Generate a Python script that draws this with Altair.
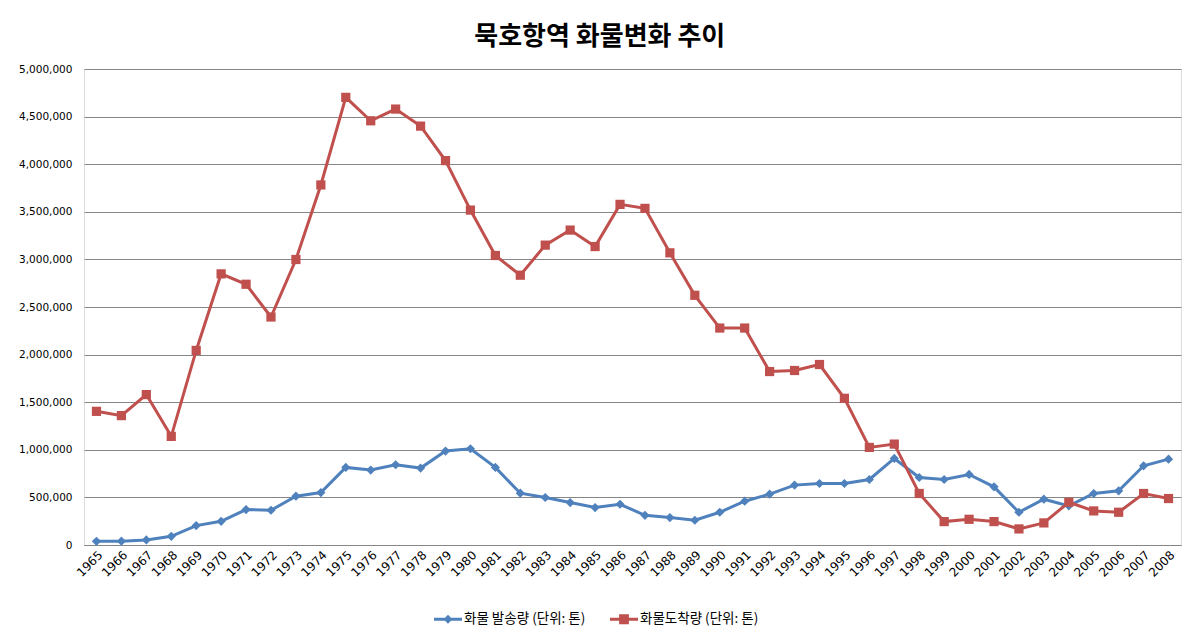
import altair as alt
import pandas as pd

years = ["1965","1966","1967","1968","1969","1970","1971","1972","1973","1974",
         "1975","1976","1977","1978","1979","1980","1981","1982","1983","1984",
         "1985","1986","1987","1988","1989","1990","1991","1992","1993","1994",
         "1995","1996","1997","1998","1999","2000","2001","2002","2003","2004",
         "2005","2006","2007","2008"]

send = [39000, 40000, 53000, 91000, 204000, 249000, 372000, 365000, 513000, 551000,
        815000, 787000, 843000, 808000, 987000, 1011000, 815000, 544000, 499000, 446000,
        393000, 428000, 312000, 288000, 260000, 344000, 460000, 534000, 629000, 646000,
        646000, 688000, 909000, 709000, 688000, 741000, 611000, 344000, 481000, 411000,
        541000, 569000, 832000, 902000]

arrive = [1404000, 1359000, 1580000, 1141000, 2044000, 2848000, 2739000, 2395000, 2999000, 3782000,
          4702000, 4456000, 4579000, 4400000, 4038000, 3518000, 3041000, 2834000, 3150000, 3308000,
          3135000, 3578000, 3536000, 3069000, 2623000, 2279000, 2279000, 1822000, 1833000, 1896000,
          1541000, 1025000, 1060000, 541000, 246000, 270000, 246000, 169000, 232000, 449000,
          358000, 344000, 541000, 488000]

series_names = ["화물 발송량 (단위: 톤)", "화물도착량 (단위: 톤)"]
colors = ["#4F81BD", "#C0504D"]

rows = []
for name, vals in zip(series_names, [send, arrive]):
    for i, (y, v) in enumerate(zip(years, vals)):
        rows.append({"year": y, "series": name, "value": v, "order": i})
df = pd.DataFrame(rows)

kfont = "Noto Sans CJK KR"

x_enc = alt.X("year:O", sort=years, title=None,
              axis=alt.Axis(labelAngle=-45, labelFont="DejaVu Sans", labelFontSize=12,
                            labelColor="#000000", ticks=False, domain=True,
                            domainColor="#868686", labelPadding=4, grid=False))
y_enc = alt.Y("value:Q", title=None,
              scale=alt.Scale(domain=[0, 5000000], nice=False),
              axis=alt.Axis(values=[0, 500000, 1000000, 1500000, 2000000, 2500000, 3000000,
                                    3500000, 4000000, 4500000, 5000000],
                            format=",d", labelFont="DejaVu Sans", labelFontSize=10.5,
                            labelColor="#000000", ticks=False, domain=False,
                            gridColor="#868686", gridWidth=1, labelPadding=12))

color_scale = alt.Scale(domain=series_names, range=colors)

base = alt.Chart(df)

lines = base.mark_line(strokeWidth=3).encode(
    x=x_enc, y=y_enc,
    color=alt.Color("series:N", scale=color_scale, legend=None),
    detail="series:N",
    order="order:Q",
)

points = base.mark_point(filled=True, opacity=1, size=85).encode(
    x=x_enc, y=y_enc,
    color=alt.Color("series:N", scale=color_scale, legend=None),
    shape=alt.Shape("series:N", scale=alt.Scale(domain=series_names, range=["diamond", "square"]),
                    legend=None),
)

diamond_path = "M-1,-0.1L1,-0.1L1,0.1L-1,0.1Z M0,-0.32L0.32,0L0,0.32L-0.32,0Z"
square_path = "M-1,-0.1L1,-0.1L1,0.1L-1,0.1Z M-0.35,-0.35L0.35,-0.35L0.35,0.35L-0.35,0.35Z"

legend_params = alt.Legend(title=None, orient="none", direction="horizontal",
                           legendX=350, legendY=536, symbolSize=784,
                           labelFont=kfont, labelFontSize=13.5, labelColor="#000000",
                           columnPadding=24, labelOffset=2, symbolStrokeWidth=0)

legend_layer = base.mark_point(filled=True, opacity=1).encode(
    x=x_enc, y=y_enc,
    color=alt.Color("series:N", scale=alt.Scale(domain=series_names, range=colors),
                    legend=legend_params),
    shape=alt.Shape("series:N", scale=alt.Scale(domain=series_names,
                                                range=[diamond_path, square_path]),
                    legend=legend_params),
).transform_filter("false")

chart = alt.layer(lines, points, legend_layer).resolve_scale(
    shape="independent", color="independent"
).properties(
    width=1097, height=476,
    title=alt.TitleParams("묵호항역 화물변화 추이", font=kfont, fontSize=26, fontWeight="bold",
                          color="#000000", anchor="middle", frame="bounds", offset=14),
    padding={"left": 10, "top": 16, "right": 5, "bottom": 5},
).configure_view(stroke=None).configure(background="#FFFFFF")

chart.save("out.html", embed_options={"renderer": "svg", "actions": False})
